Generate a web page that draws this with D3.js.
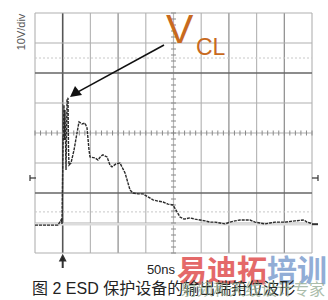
<!DOCTYPE html>
<html>
<head>
<meta charset="utf-8">
<script src="https://cdn.jsdelivr.net/npm/d3@7"></script>
<style>
  body { margin: 0; background: #fff; }
  svg { display: block; }
</style>
</head>
<body>
<div id="scope"></div>
<script>
// trace: time (ns) and voltage (V, 0 = screen centre)
const timeNs = [0, 41.5, 46.9, 48.7, 50.5, 52.3, 53.2, 54.1, 56.0, 57.8, 59.6, 60.5, 61.4, 65.0, 70.4,
  75.8, 79.4, 84.8, 90.3, 93.9, 97.5, 99.3, 108.3, 113.7, 119.1, 122.7, 130.0, 135.4, 139.0, 146.2,
  153.4, 162.5, 167.9, 171.5, 176.9, 185.9, 194.9, 204.0, 213.0, 222.0, 231.0, 240.1, 249.1, 254.5,
  261.7, 268.9, 279.8, 288.8, 297.8, 306.9, 315.9, 324.9, 333.9, 343.0, 352.0, 361.0, 370.0, 388.1,
  397.1, 406.1, 415.2, 424.2, 433.2, 451.3, 469.3, 485.5, 491.0, 496.4, 500];
const voltage = [-30.7, -30.7, -29.0, -30.3, -5.7, 9.3, -2.3, 7.7, -12.3, 11.0, 11.7, -5.7, -10.7, -10.0, -5.7,
  0, 3.7, 3.0, 3.3, 1.7, -5.7, -8.0, -8.3, -9.0, -7.7, -7.3, -8.0, -10.7, -11.3, -10.3,
  -10.0, -13.3, -16.7, -19.0, -20.0, -20.3, -20.3, -21.3, -22.3, -22.7, -23.0, -23.7, -24.0, -25.7,
  -28.0, -28.7, -28.3, -28.7, -29.0, -29.3, -29.7, -29.7, -30.0, -30.3, -29.7, -29.3, -29.0, -29.0,
  -29.7, -30.0, -30.3, -30.0, -29.7, -29.7, -29.3, -29.0, -29.7, -30.0, -30.3];

const gridTimes = d3.range(0, 501, 50);
const gridVolts = d3.range(-40, 41, 10);
const darkTimes = [50];
const midTimes = [150, 350, 450];
const darkVolts = [20, -20];
const voltLabel = '10V/div';
const timeLabel = '50ns';
const caption = '图 2 ESD 保护设备的输出端箝位波形';

const width = 328;
const height = 300;

const svg = d3.select('#scope')
  .append('svg')
    .attr('width', width)
    .attr('height', height)
    .attr('viewBox', [0, 0, width, height]);

const x = d3.scaleLinear().domain([0, 500]).range([35, 312]);
const y = d3.scaleLinear().domain([-40, 40]).range([253, 13]);

// graticule
svg.append('g')
  .selectAll('line')
  .data(gridTimes)
  .join('line')
    .attr('x1', d => x(d)).attr('x2', d => x(d))
    .attr('y1', y(40)).attr('y2', y(-40))
    .attr('stroke', d => darkTimes.includes(d) ? '#555' : midTimes.includes(d) ? '#8a8a8a' : '#b8b8b8')
    .attr('stroke-width', d => darkTimes.includes(d) ? 1.6 : 1.2);

svg.append('g')
  .selectAll('line')
  .data(gridVolts)
  .join('line')
    .attr('x1', x(0)).attr('x2', x(500))
    .attr('y1', d => y(d)).attr('y2', d => y(d))
    .attr('stroke', d => darkVolts.includes(d) ? '#666' : '#b0b0b0')
    .attr('stroke-width', d => darkVolts.includes(d) ? 1.6 : 1.2);

// faint cursor lines
svg.append('g')
  .selectAll('line')
  .data([25, -26.3])
  .join('line')
    .attr('x1', x(0)).attr('x2', x(500))
    .attr('y1', d => y(d)).attr('y2', d => y(d))
    .attr('stroke', '#c8c8c8')
    .attr('stroke-dasharray', '2,2');

svg.append('line')
  .attr('x1', x(0)).attr('x2', x(500))
  .attr('y1', y(-30.4)).attr('y2', y(-30.4))
  .attr('stroke', '#dcdcdc')
  .attr('stroke-width', 2.5);

// minor ticks on the centre axes
svg.append('g')
  .selectAll('line')
  .data(d3.range(0, 501, 10))
  .join('line')
    .attr('x1', d => x(d)).attr('x2', d => x(d))
    .attr('y1', y(0) - 2.5).attr('y2', y(0) + 2.5)
    .attr('stroke', '#888');

svg.append('g')
  .selectAll('line')
  .data(d3.range(-40, 41, 2))
  .join('line')
    .attr('x1', x(250) - 2.5).attr('x2', x(250) + 2.5)
    .attr('y1', d => y(d)).attr('y2', d => y(d))
    .attr('stroke', '#888');

// the waveform
const points = timeNs.map((t, i) => [t, voltage[i]]);
svg.append('path')
  .datum(points)
  .attr('fill', 'none')
  .attr('stroke', '#2a2a2a')
  .attr('stroke-width', 1.4)
  .attr('stroke-dasharray', '3,1')
  .attr('d', d3.line().x(d => x(d[0])).y(d => y(d[1])));

// screen markers
const markers = svg.append('g').attr('stroke', '#333').attr('stroke-width', 1.2);
markers.append('line').attr('x1', 30).attr('x2', 36).attr('y1', y(-15)).attr('y2', y(-15));
markers.append('line').attr('x1', 30).attr('x2', 30).attr('y1', y(-15) - 3).attr('y2', y(-15) + 3);
markers.append('line').attr('x1', 312).attr('x2', 318).attr('y1', y(-15)).attr('y2', y(-15));
markers.append('line').attr('x1', 318).attr('x2', 318).attr('y1', y(-15) - 3).attr('y2', y(-15) + 3);
markers.append('line').attr('x1', 312).attr('x2', 318).attr('y1', y(-30.4)).attr('y2', y(-30.4)).attr('stroke-width', 2);
markers.append('line').attr('x1', x(50)).attr('x2', x(50)).attr('y1', 258).attr('y2', 268).attr('stroke-width', 2);
markers.append('path')
  .attr('d', `M${x(50) - 3},${261} L${x(50)},${255} L${x(50) + 3},${261} Z`)
  .attr('fill', '#222');

// V_CL annotation arrow
const tipX = x(59.6) + 2, tipY = y(11.7) - 1;
svg.append('line')
  .attr('x1', 164).attr('y1', 45)
  .attr('x2', tipX + 8).attr('y2', tipY - 5)
  .attr('stroke', '#111')
  .attr('stroke-width', 1.6);
svg.append('path')
  .attr('d', `M${tipX},${tipY} L${tipX + 5},${tipY - 11} L${tipX + 12},${tipY - 2} Z`)
  .attr('fill', '#111');

svg.append('text')
  .attr('x', 166).attr('y', 43)
  .attr('font-family', 'Liberation Sans, Arial, sans-serif')
  .attr('font-size', 41)
  .attr('fill', '#c86a1e')
  .text('V');
svg.append('text')
  .attr('x', 196).attr('y', 55)
  .attr('font-family', 'Liberation Sans, Arial, sans-serif')
  .attr('font-size', 23)
  .attr('fill', '#c86a1e')
  .text('CL');

// labels
svg.append('text')
  .attr('transform', 'translate(25,32) rotate(-90)')
  .attr('text-anchor', 'middle')
  .attr('font-family', 'Liberation Sans, Arial, sans-serif')
  .attr('font-size', 11)
  .attr('fill', '#555')
  .text(voltLabel);

svg.append('text')
  .attr('x', 161).attr('y', 274)
  .attr('text-anchor', 'middle')
  .attr('font-family', 'Liberation Sans, Arial, sans-serif')
  .attr('font-size', 13)
  .attr('fill', '#222')
  .text(timeLabel);

// watermark
svg.append('text')
  .attr('x', 177).attr('y', 281)
  .attr('font-family', 'Noto Sans CJK SC, sans-serif')
  .attr('font-weight', 'bold')
  .attr('font-size', 30)
  .attr('fill', '#e05050')
  .attr('opacity', 0.85)
  .text('易迪拓');
svg.append('text')
  .attr('x', 267).attr('y', 281)
  .attr('font-family', 'Noto Sans CJK SC, sans-serif')
  .attr('font-weight', 'bold')
  .attr('font-size', 30)
  .attr('fill', '#7f9fd0')
  .attr('opacity', 0.85)
  .text('培训');

svg.append('text')
  .attr('x', 32).attr('y', 294)
  .attr('font-family', 'Liberation Sans, Noto Sans CJK SC, sans-serif')
  .attr('font-size', 16)
  .attr('fill', '#222')
  .text(caption);

svg.append('text')
  .attr('x', 181).attr('y', 295)
  .attr('font-family', 'Noto Sans CJK SC, sans-serif')
  .attr('font-size', 16)
  .attr('fill', '#8fa88f')
  .attr('opacity', 0.75)
  .text('射频和天线设计专家');
</script>
</body>
</html>
